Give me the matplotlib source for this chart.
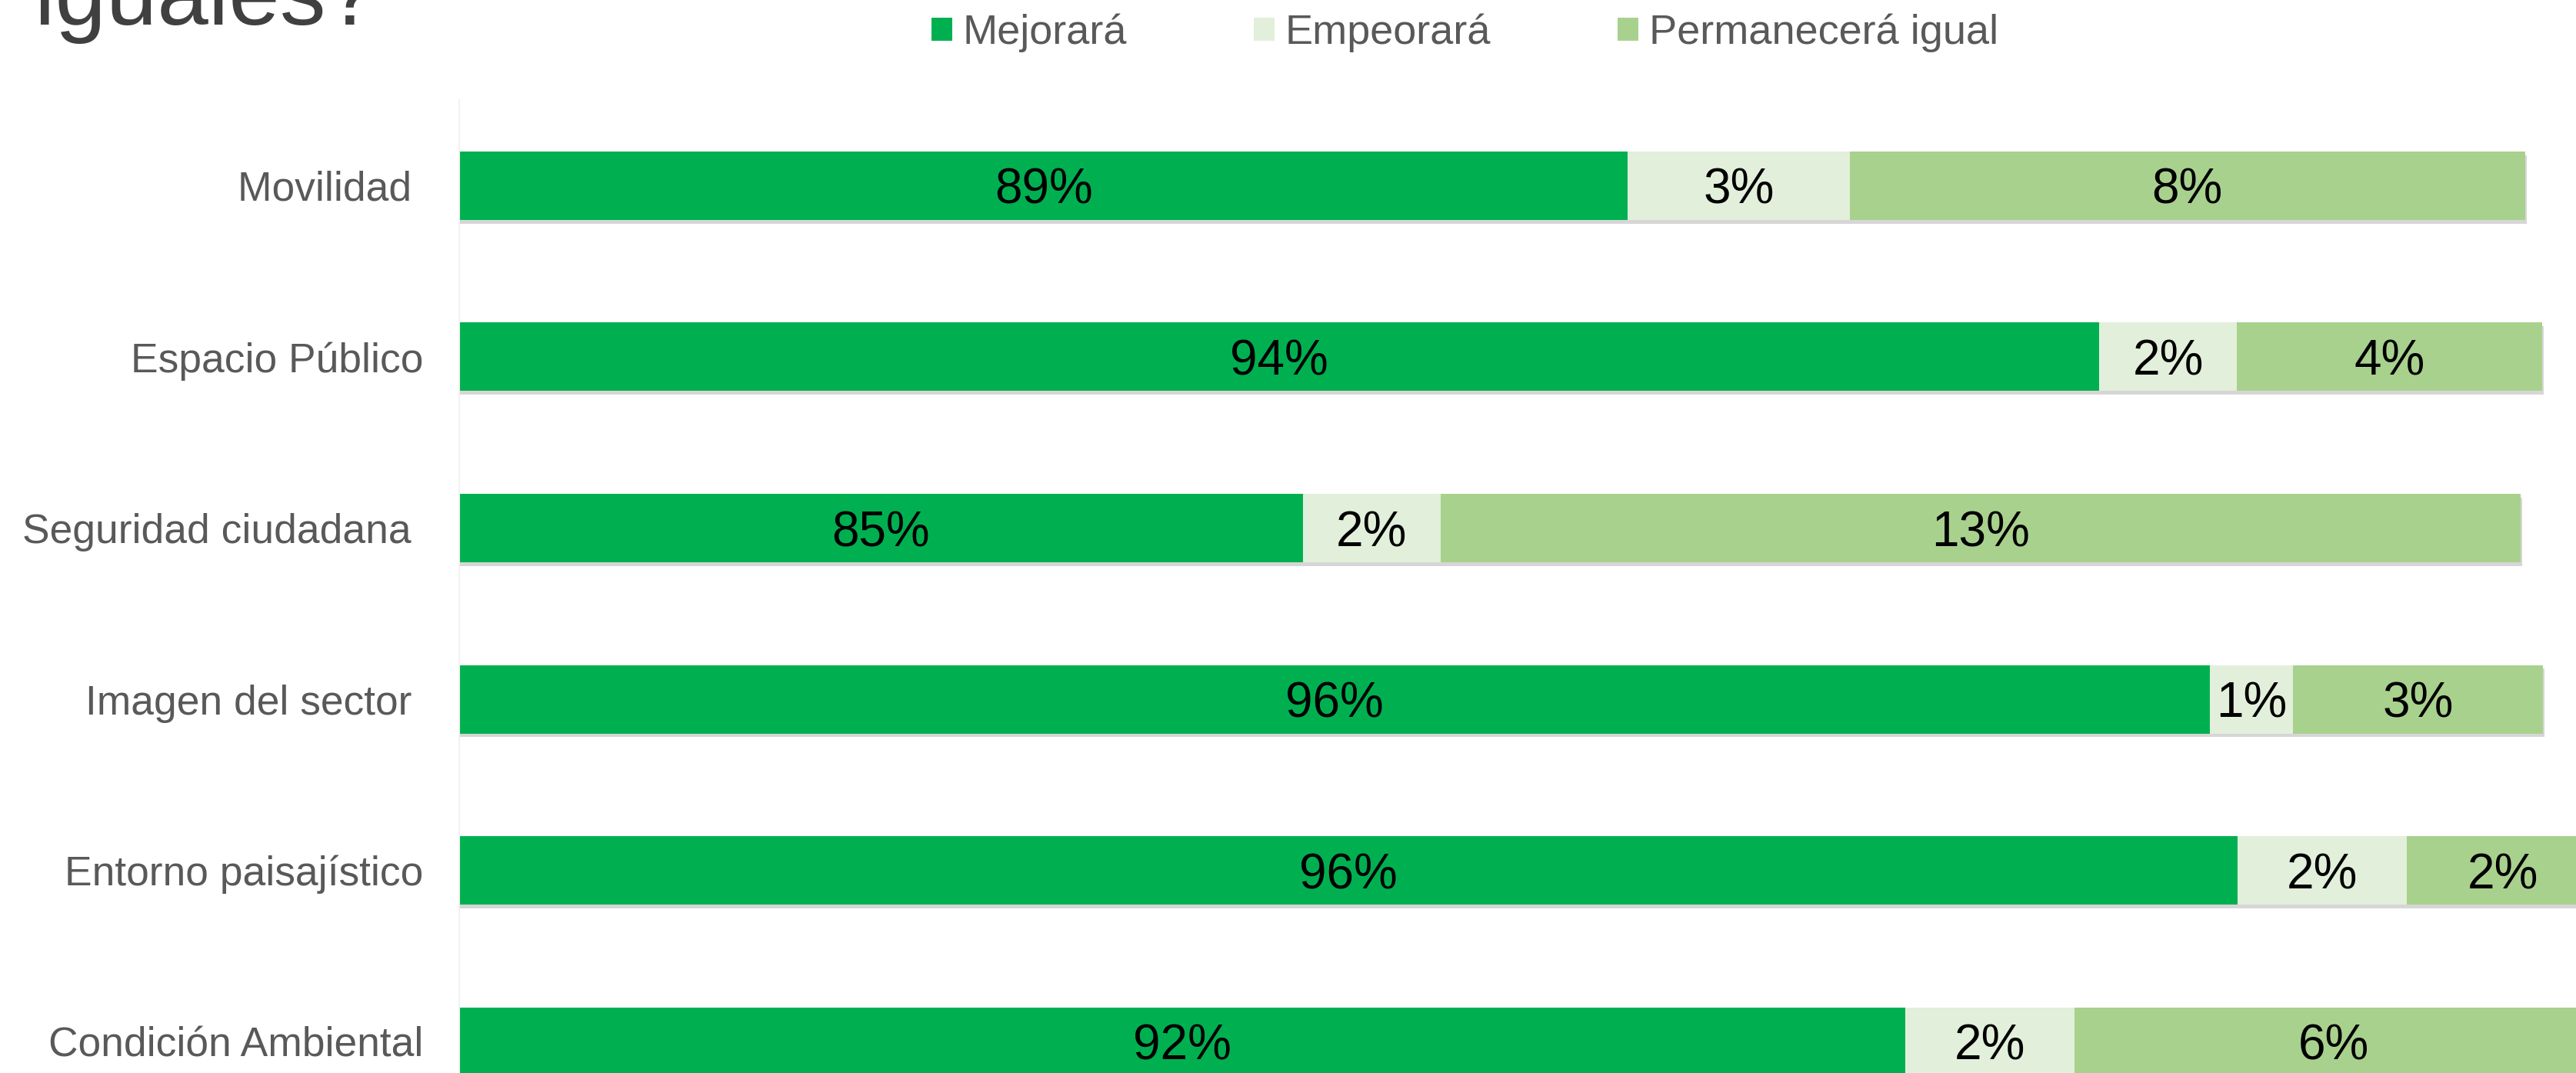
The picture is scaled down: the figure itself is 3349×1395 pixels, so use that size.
#! /usr/bin/env python
## plot.py - stacked horizontal bars: expected change per aspect of the sector
## (the axis does not start at zero, so the dark green bars are cut at the left)

import numpy as np
import matplotlib
matplotlib.use('Agg')
import matplotlib.pyplot as plt
import matplotlib.patheffects as pe
from matplotlib.patches import Patch

plt.rcParams['font.family'] = ['Liberation Sans', 'DejaVu Sans']

## data (percent of answers)
CATEGORIES = ['Movilidad ', 'Espacio Público', 'Seguridad ciudadana ',
              'Imagen del sector ', 'Entorno paisajístico', 'Condición Ambiental']
MEJORARA = [88.67, 94.46, 84.67, 95.83, 96.17, 92.08]
EMPEORARA = [2.73, 1.70, 1.70, 1.02, 2.08, 2.08]
PERMANECERA = [8.30, 3.75, 13.28, 3.07, 2.36, 6.38]
SERIES = ['Mejorará', 'Empeorará', 'Permanecerá igual']
COLORS = ['#00B050', '#E2EFDA', '#A9D18E']

## axis and style choices
XMIN, XMAX = 74.3, 101.5
LABEL_GRAY = '#595959'
SHADOW = [pe.SimplePatchShadow(offset=(1.5, -3.5), shadow_rgbFace='#000000', alpha=0.16),
          pe.Normal()]


def plot_stacked(ax):
    y = np.arange(len(CATEGORIES))
    left = np.zeros(len(CATEGORIES))
    for vals, color in zip([MEJORARA, EMPEORARA, PERMANECERA], COLORS):
        vals = np.array(vals)
        bars = ax.barh(y, vals, left=left, height=0.4, color=color, zorder=2)
        for b in bars:
            b.set_path_effects(SHADOW)
        # labels sit in the middle of the visible part of each segment
        x0 = np.maximum(left, XMIN)
        for yi, a, v in zip(y, x0, vals):
            ax.text((a + left[yi] + v) / 2, yi, '{:.0f}%'.format(v),
                    ha='center', va='center_baseline', fontsize=46, color='black', zorder=3)
        left = left + vals

    ax.set_xlim(XMIN, XMAX)
    ax.set_ylim(len(CATEGORIES) - 0.5, -0.5)
    ax.set_yticks(y)
    ax.set_yticklabels(CATEGORIES, fontsize=38.4, color=LABEL_GRAY)
    ax.tick_params(axis='y', length=0, pad=34)
    ax.set_xticks([])
    for s in ['top', 'right', 'bottom']:
        ax.spines[s].set_visible(False)
    ax.spines['left'].set_color('#F2F2F2')
    ax.spines['left'].set_linewidth(1.5)
    return


if __name__ == "__main__":
    fig = plt.figure(figsize=(33.49, 13.95), dpi=100)
    # the chart is cut off at the bottom and at the right in the source
    ax = fig.add_axes([0.1783, -0.0506, 0.8587, 0.9574])
    plot_stacked(ax)

    handles = [Patch(facecolor=c, edgecolor='none') for c in COLORS]
    fig.legend(handles, SERIES, loc='center', bbox_to_anchor=(0.5686, 0.9692),
               ncol=3, frameon=False, fontsize=39, labelcolor=LABEL_GRAY,
               handlelength=0.5, handleheight=0.5, handletextpad=0.25,
               columnspacing=3.05, borderaxespad=0)

    # only the bottom of the title is visible in the source
    fig.text(45 / 3349, 1 - 32 / 1395, 'iguales?', fontsize=86, color='#404040',
             ha='left', va='baseline')

    fig.savefig('out.png', dpi=100)
